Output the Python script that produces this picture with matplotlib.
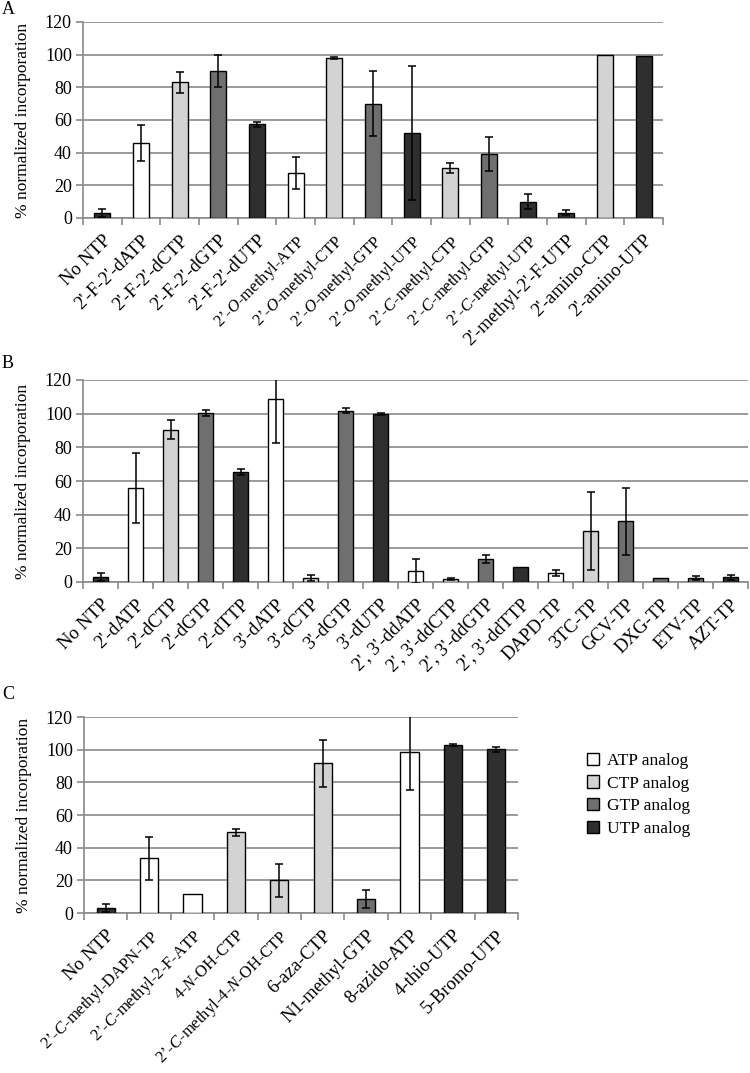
import matplotlib
matplotlib.use("Agg")
import matplotlib.pyplot as plt
from matplotlib.patches import Patch
import numpy as np

plt.rcParams['font.family'] = ['Liberation Serif', 'DejaVu Serif']
plt.rcParams['mathtext.fontset'] = 'custom'
plt.rcParams['mathtext.rm'] = 'Liberation Serif'
plt.rcParams['mathtext.it'] = 'Liberation Serif:italic'

# colours per analog type
colors = {'A': '#ffffff', 'C': '#d3d3d3', 'G': '#6f6f6f', 'U': '#2f2f2f'}

# panel A
labels_a = ["No NTP", "2'-F-2'-dATP", "2'-F-2'-dCTP", "2'-F-2'-dGTP", "2'-F-2'-dUTP",
            "2’-$O$-methyl-ATP", "2’-$O$-methyl-CTP", "2’-$O$-methyl-GTP", "2’-$O$-methyl-UTP",
            "2’-$C$-methyl-CTP", "2’-$C$-methyl-GTP", "2’-$C$-methyl-UTP",
            "2'-methyl-2'-F-UTP", "2'-amino-CTP", "2'-amino-UTP"]
vals_a = [3, 46, 83, 90, 57.5, 27.5, 98, 70, 52, 30.4, 39.2, 10, 3.2, 99.5, 99]
errs_a = [2.5, 11, 6.5, 10, 1.5, 10, 0.5, 20, 41, 3, 10.4, 4.6, 1.5, 0, 0]
types_a = ['U', 'A', 'C', 'G', 'U', 'A', 'C', 'G', 'U', 'C', 'G', 'U', 'U', 'C', 'U']

# panel B
labels_b = ["No NTP", "2'-dATP", "2'-dCTP", "2'-dGTP", "2'-dTTP", "3'-dATP", "3'-dCTP",
            "3'-dGTP", "3'-dUTP", "2', 3'-ddATP", "2', 3'-ddCTP", "2', 3'-ddGTP",
            "2', 3'-ddTTP", "DAPD-TP", "3TC-TP", "GCV-TP", "DXG-TP", "ETV-TP", "AZT-TP"]
vals_b = [3, 55.8, 90.5, 100.4, 65.3, 108.7, 2.4, 101.8, 99.8, 6.5, 1.8, 13.5,
          8.7, 5.2, 30.2, 36.1, 2.6, 2.2, 2.8]
errs_b = [2.5, 21, 5.8, 1.7, 1.7, 26, 1.6, 1.4, 0.5, 7, 0.7, 2.4,
          0, 1.8, 23, 20, 0, 1.2, 1.4]
types_b = ['U', 'A', 'C', 'G', 'U', 'A', 'C', 'G', 'U', 'A', 'C', 'G',
           'U', 'A', 'C', 'G', 'G', 'G', 'U']

# panel C
labels_c = ["No NTP", "2’-$C$-methyl-DAPN-TP", "2’-$C$-methyl-2-F-ATP", "4-$N$-OH-CTP",
            "2’-$C$-methyl-4-$N$-OH-CTP", "6-aza-CTP", "N1-methyl-GTP", "8-azido-ATP",
            "4-thio-UTP", "5-Bromo-UTP"]
vals_c = [3, 33.5, 11.8, 49.4, 20, 91.6, 8.8, 98.6, 103, 100.2]
errs_c = [2.5, 13.3, 0, 2, 10, 14.5, 5.5, 23, 0.5, 1.5]
types_c = ['U', 'A', 'A', 'C', 'C', 'C', 'G', 'A', 'U', 'U']

legend_names = ["ATP analog", "CTP analog", "GTP analog", "UTP analog"]

fig = plt.figure(figsize=(7.5, 10.73), dpi=100)
W, H = 750, 1073

grid_col = '#8a8a8a'


def panel(box, labels, vals, errs, types, letter, letter_y):
    x0, x1, ytop, ybot = box
    ax = fig.add_axes([x0 / W, 1 - ybot / H, (x1 - x0) / W, (ybot - ytop) / H])
    n = len(vals)
    x = np.arange(n)
    ax.bar(x, vals, width=0.42, color=[colors[t] for t in types],
           edgecolor='black', linewidth=1.0, zorder=3)
    e = np.array(errs, dtype=float)
    m = e > 0
    ax.errorbar(x[m], np.array(vals)[m], yerr=e[m], fmt='none', ecolor='black',
                elinewidth=1.1, capsize=3, capthick=1.1, zorder=4)
    ax.set_xlim(-0.5, n - 0.5)
    ax.set_ylim(0, 120)
    ax.set_yticks(range(0, 121, 20))
    ax.yaxis.grid(True, color=grid_col, linewidth=1.2, zorder=0)
    ax.set_axisbelow(True)
    for s in ['top', 'right']:
        ax.spines[s].set_visible(False)
    ax.spines['left'].set_color(grid_col)
    ax.spines['bottom'].set_color(grid_col)
    ax.spines['left'].set_linewidth(1.2)
    ax.spines['bottom'].set_linewidth(1.2)
    ax.tick_params(axis='y', length=5, color=grid_col, width=1.2, labelsize=13, pad=3)
    ax.set_xticks(np.arange(n + 1) - 0.5, minor=True)
    ax.set_xticks(x)
    ax.tick_params(axis='x', which='minor', length=5, color=grid_col, width=1.2)
    ax.tick_params(axis='x', which='major', length=0, pad=10)
    ax.set_xticklabels(labels, rotation=45, ha='right', va='top',
                       rotation_mode='anchor', fontsize=13.5)
    # the italic (mathtext) labels come out wider, so set them a little smaller
    for t in ax.get_xticklabels():
        if '$' in t.get_text():
            t.set_fontsize(12)
    ax.set_ylabel('% normalized incorporation', fontsize=12.5, labelpad=10)
    fig.text(2 / W, 1 - letter_y / H, letter, fontsize=13, va='top', ha='left')
    return ax


panel((83, 663, 22, 218), labels_a, vals_a, errs_a, types_a, 'A', 1)
panel((83, 748, 380, 582), labels_b, vals_b, errs_b, types_b, 'B', 355)
ax_c = panel((84, 518, 717, 913), labels_c, vals_c, errs_c, types_c, 'C', 686)

handles = [Patch(facecolor=colors[k], edgecolor='black', linewidth=1.0) for k in 'ACGU']
fig.legend(handles, legend_names, loc='upper left', bbox_to_anchor=(571 / W, 1 - 737 / H),
           frameon=False, fontsize=12.5, handlelength=0.7, handleheight=0.7,
           handletextpad=0.5, labelspacing=0.38)

fig.savefig('out.png', dpi=100)
